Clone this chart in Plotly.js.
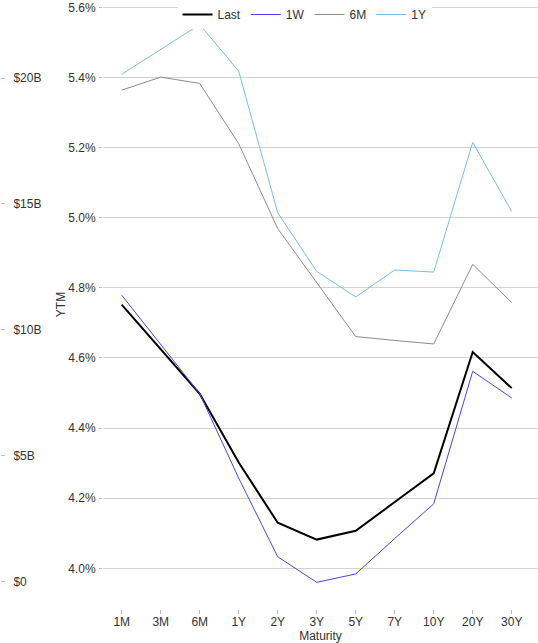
<!DOCTYPE html>
<html>
<head>
<meta charset="utf-8">
<script src="https://cdn.plot.ly/plotly-3.0.1.min.js"></script>
<style>html,body{margin:0;padding:0;background:#fff;}#chart{width:538px;height:643px;}</style>
</head>
<body>
<div id="chart"></div>
<script>
const maturities = ["1M","3M","6M","1Y","2Y","3Y","5Y","7Y","10Y","20Y","30Y"];
const ytmLast = [4.752, 4.625, 4.498, 4.302, 4.130, 4.082, 4.107, 4.189, 4.271, 4.617, 4.514];
const ytm1W   = [4.779, 4.639, 4.498, 4.257, 4.033, 3.960, 3.984, 4.085, 4.184, 4.562, 4.486];
const ytm6M   = [5.364, 5.401, 5.383, 5.211, 4.969, 4.816, 4.661, 4.650, 4.640, 4.867, 4.758];
const ytm1Y   = [5.409, 5.480, 5.551, 5.418, 5.014, 4.847, 4.774, 4.851, 4.845, 5.215, 5.018];
const seriesNames = ["Last","1W","6M","1Y"];
const seriesColors = ["#000000","#4646f0","#8c8c8c","#78bdf0"];
const seriesWidths = [2, 1, 1, 1];
const ytmTicks = [4.0, 4.2, 4.4, 4.6, 4.8, 5.0, 5.2, 5.4, 5.6];
const ytmTickText = ["4.0%","4.2%","4.4%","4.6%","4.8%","5.0%","5.2%","5.4%","5.6%"];
const volTickVals = [0, 5e9, 10e9, 15e9, 20e9];
const volTickText = ["$0","$5B","$10B","$15B","$20B"];

const allY = [ytmLast, ytm1W, ytm6M, ytm1Y];
const traces = allY.map((ys, i) => ({
  type: "scatter", mode: "lines",
  x: maturities, y: ys, name: seriesNames[i],
  line: {color: seriesColors[i], width: seriesWidths[i]},
  xaxis: "x", yaxis: "y"
}));
// invisible trace to activate the secondary (volume) axis
traces.push({type: "bar", x: maturities, y: maturities.map(() => 0), yaxis: "y2", showlegend: false, hoverinfo: "skip", marker: {color: "rgba(0,0,0,0)"}});

const font = {family: "Liberation Sans, Arial, sans-serif", size: 12, color: "#333"};
const layout = {
  width: 538, height: 643,
  margin: {l: 0, r: 0, t: 0, b: 34, pad: 0},
  paper_bgcolor: "#fff", plot_bgcolor: "#fff",
  font: font,
  showlegend: true,
  legend: {orientation: "h", x: 0.566, xanchor: "center", y: 1, yanchor: "top", bgcolor: "#fff", font: font},
  xaxis: {
    domain: [103/538, 1],
    type: "category", range: [-0.48, 10.674],
    showgrid: false, zeroline: false, showline: false,
    ticks: "outside", ticklen: 4, tickcolor: "#bbb",
    ticklabelstandoff: -2,
    title: {text: "Maturity", font: font, standoff: 1}
  },
  yaxis: {
    range: [3.884, 5.621],
    tickmode: "array", tickvals: ytmTicks, ticktext: ytmTickText,
    showgrid: true, gridcolor: "#d3d3d3", gridwidth: 1,
    zeroline: false, showline: false,
    ticks: "outside", ticklen: 3, tickcolor: "#bbb",
    ticklabelstandoff: 1,
    title: {text: "YTM", font: font, standoff: 0}
  },
  yaxis2: {
    overlaying: "y", side: "right", anchor: "free", position: 0,
    range: [-1.084e9, 23.10e9],
    tickmode: "array", tickvals: volTickVals, ticktext: volTickText,
    showgrid: false, zeroline: false, showline: false,
    ticks: "outside", ticklen: 4, tickcolor: "#bbb",
    ticklabelstandoff: 6
  }
};
Plotly.newPlot("chart", traces, layout, {staticPlot: true, displayModeBar: false});
</script>
</body>
</html>
